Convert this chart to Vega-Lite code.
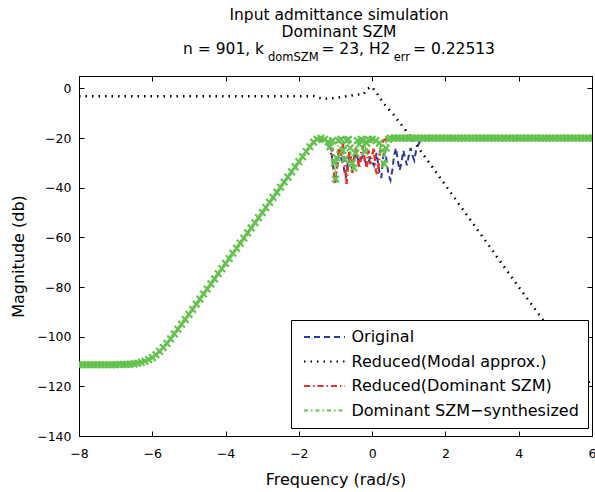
{
  "$schema": "https://vega.github.io/schema/vega-lite/v6.json",
  "width": 513,
  "height": 360,
  "autosize": "none",
  "padding": {"left": 79, "top": 76, "right": 3, "bottom": 56},
  "background": "white",
  "config": {
    "view": {"stroke": "black", "strokeWidth": 1},
    "font": "DejaVu Sans",
    "axis": {"grid": false, "labelFlush": false, "domainColor": "black", "tickColor": "black", "labelColor": "black", "titleColor": "black", "labelFont": "DejaVu Sans", "titleFont": "DejaVu Sans", "titleFontWeight": "normal", "labelFontSize": 12.5, "titleFontSize": 16, "tickSize": -5, "domainWidth": 1, "tickWidth": 1}
  },
  "title": {
    "text": ["Input admittance simulation", "Dominant SZM", "n = 901, k\u2007\u2007\u2007\u2007\u2007\u2009 = 23, H2\u2007\u2005\u2005 = 0.22513"],
    "subtitle": "domSZM\u2007\u2007\u2007\u2007\u2007\u2007\u2007\u2007\u2007\u2007\u2006err\u2007\u2007\u2004",
    "font": "DejaVu Sans",
    "fontSize": 15.5,
    "fontWeight": "normal",
    "lineHeight": 17,
    "color": "black",
    "subtitleFont": "DejaVu Sans",
    "subtitleFontSize": 11.5,
    "subtitleColor": "black",
    "subtitlePadding": -5,
    "offset": 12,
    "dx": 3.5
  },
  "datasets": {
    "d": [
      {"s": "Original", "x": -8, "y": -111.3},
      {"s": "Original", "x": -6.4, "y": -110.7},
      {"s": "Original", "x": -6.2, "y": -109.9},
      {"s": "Original", "x": -6.0, "y": -108.4},
      {"s": "Original", "x": -5.8, "y": -105.9},
      {"s": "Original", "x": -5.6, "y": -102.7},
      {"s": "Original", "x": -5.4, "y": -98.9},
      {"s": "Original", "x": -5.2, "y": -95.0},
      {"s": "Original", "x": -5.0, "y": -91.0},
      {"s": "Original", "x": -1.7, "y": -23.5},
      {"s": "Original", "x": -1.6, "y": -21.6},
      {"s": "Original", "x": -1.5, "y": -20.5},
      {"s": "Original", "x": -1.3, "y": -21},
      {"s": "Original", "x": -1.2, "y": -23},
      {"s": "Original", "x": -1.1, "y": -27},
      {"s": "Original", "x": -1.02, "y": -37},
      {"s": "Original", "x": -0.98, "y": -34},
      {"s": "Original", "x": -0.9, "y": -26},
      {"s": "Original", "x": -0.8, "y": -30},
      {"s": "Original", "x": -0.72, "y": -36},
      {"s": "Original", "x": -0.65, "y": -28},
      {"s": "Original", "x": -0.55, "y": -32},
      {"s": "Original", "x": -0.45, "y": -26},
      {"s": "Original", "x": -0.35, "y": -30},
      {"s": "Original", "x": -0.25, "y": -27},
      {"s": "Original", "x": -0.15, "y": -31},
      {"s": "Original", "x": -0.05, "y": -28},
      {"s": "Original", "x": 0.05, "y": -31},
      {"s": "Original", "x": 0.12, "y": -26},
      {"s": "Original", "x": 0.2, "y": -34},
      {"s": "Original", "x": 0.25, "y": -36},
      {"s": "Original", "x": 0.3, "y": -28},
      {"s": "Original", "x": 0.35, "y": -24},
      {"s": "Original", "x": 0.4, "y": -30},
      {"s": "Original", "x": 0.45, "y": -35},
      {"s": "Original", "x": 0.5, "y": -37},
      {"s": "Original", "x": 0.55, "y": -33},
      {"s": "Original", "x": 0.6, "y": -27},
      {"s": "Original", "x": 0.65, "y": -24},
      {"s": "Original", "x": 0.7, "y": -29},
      {"s": "Original", "x": 0.75, "y": -33},
      {"s": "Original", "x": 0.8, "y": -30},
      {"s": "Original", "x": 0.85, "y": -25},
      {"s": "Original", "x": 0.9, "y": -28},
      {"s": "Original", "x": 0.95, "y": -31},
      {"s": "Original", "x": 1.0, "y": -27},
      {"s": "Original", "x": 1.05, "y": -24},
      {"s": "Original", "x": 1.1, "y": -27},
      {"s": "Original", "x": 1.15, "y": -29},
      {"s": "Original", "x": 1.2, "y": -25},
      {"s": "Original", "x": 1.25, "y": -23},
      {"s": "Original", "x": 1.3, "y": -21.5},
      {"s": "Original", "x": 1.4, "y": -20.3},
      {"s": "Original", "x": 1.5, "y": -20},
      {"s": "Original", "x": 6, "y": -20},

      {"s": "Reduced(Modal approx.)", "x": -8, "y": -3.2},
      {"s": "Reduced(Modal approx.)", "x": -2, "y": -3.2},
      {"s": "Reduced(Modal approx.)", "x": -1.6, "y": -3.1},
      {"s": "Reduced(Modal approx.)", "x": -1.33, "y": -4.2},
      {"s": "Reduced(Modal approx.)", "x": -0.97, "y": -3.8},
      {"s": "Reduced(Modal approx.)", "x": -0.69, "y": -3.1},
      {"s": "Reduced(Modal approx.)", "x": -0.42, "y": -2.5},
      {"s": "Reduced(Modal approx.)", "x": -0.24, "y": -2.4},
      {"s": "Reduced(Modal approx.)", "x": -0.13, "y": -0.2},
      {"s": "Reduced(Modal approx.)", "x": -0.01, "y": 0.7},
      {"s": "Reduced(Modal approx.)", "x": 0.12, "y": -1.7},
      {"s": "Reduced(Modal approx.)", "x": 0.3, "y": -5.8},
      {"s": "Reduced(Modal approx.)", "x": 0.58, "y": -10.5},
      {"s": "Reduced(Modal approx.)", "x": 1.0, "y": -18.5},
      {"s": "Reduced(Modal approx.)", "x": 2.0, "y": -39},
      {"s": "Reduced(Modal approx.)", "x": 3.0, "y": -59.5},
      {"s": "Reduced(Modal approx.)", "x": 4.0, "y": -80},
      {"s": "Reduced(Modal approx.)", "x": 5.0, "y": -100},
      {"s": "Reduced(Modal approx.)", "x": 6.0, "y": -120},

      {"s": "Reduced(Dominant SZM)", "x": -8, "y": -111.3},
      {"s": "Reduced(Dominant SZM)", "x": -6.4, "y": -110.7},
      {"s": "Reduced(Dominant SZM)", "x": -6.2, "y": -109.9},
      {"s": "Reduced(Dominant SZM)", "x": -6.0, "y": -108.4},
      {"s": "Reduced(Dominant SZM)", "x": -5.8, "y": -105.9},
      {"s": "Reduced(Dominant SZM)", "x": -5.6, "y": -102.7},
      {"s": "Reduced(Dominant SZM)", "x": -5.4, "y": -98.9},
      {"s": "Reduced(Dominant SZM)", "x": -5.2, "y": -95.0},
      {"s": "Reduced(Dominant SZM)", "x": -5.0, "y": -91.0},
      {"s": "Reduced(Dominant SZM)", "x": -1.7, "y": -23.5},
      {"s": "Reduced(Dominant SZM)", "x": -1.6, "y": -21.6},
      {"s": "Reduced(Dominant SZM)", "x": -1.5, "y": -20.3},
      {"s": "Reduced(Dominant SZM)", "x": -1.3, "y": -20.8},
      {"s": "Reduced(Dominant SZM)", "x": -1.2, "y": -22},
      {"s": "Reduced(Dominant SZM)", "x": -1.1, "y": -25},
      {"s": "Reduced(Dominant SZM)", "x": -1.05, "y": -33},
      {"s": "Reduced(Dominant SZM)", "x": -1.0, "y": -38.5},
      {"s": "Reduced(Dominant SZM)", "x": -0.95, "y": -30},
      {"s": "Reduced(Dominant SZM)", "x": -0.9, "y": -24},
      {"s": "Reduced(Dominant SZM)", "x": -0.85, "y": -27},
      {"s": "Reduced(Dominant SZM)", "x": -0.8, "y": -22},
      {"s": "Reduced(Dominant SZM)", "x": -0.75, "y": -30},
      {"s": "Reduced(Dominant SZM)", "x": -0.7, "y": -38.5},
      {"s": "Reduced(Dominant SZM)", "x": -0.66, "y": -31},
      {"s": "Reduced(Dominant SZM)", "x": -0.62, "y": -25},
      {"s": "Reduced(Dominant SZM)", "x": -0.58, "y": -28},
      {"s": "Reduced(Dominant SZM)", "x": -0.54, "y": -34},
      {"s": "Reduced(Dominant SZM)", "x": -0.5, "y": -29},
      {"s": "Reduced(Dominant SZM)", "x": -0.45, "y": -24},
      {"s": "Reduced(Dominant SZM)", "x": -0.4, "y": -28},
      {"s": "Reduced(Dominant SZM)", "x": -0.35, "y": -32},
      {"s": "Reduced(Dominant SZM)", "x": -0.3, "y": -26},
      {"s": "Reduced(Dominant SZM)", "x": -0.25, "y": -23},
      {"s": "Reduced(Dominant SZM)", "x": -0.2, "y": -29},
      {"s": "Reduced(Dominant SZM)", "x": -0.15, "y": -32},
      {"s": "Reduced(Dominant SZM)", "x": -0.1, "y": -25},
      {"s": "Reduced(Dominant SZM)", "x": -0.05, "y": -30.5},
      {"s": "Reduced(Dominant SZM)", "x": 0.0, "y": -27},
      {"s": "Reduced(Dominant SZM)", "x": 0.05, "y": -24},
      {"s": "Reduced(Dominant SZM)", "x": 0.1, "y": -33},
      {"s": "Reduced(Dominant SZM)", "x": 0.15, "y": -35},
      {"s": "Reduced(Dominant SZM)", "x": 0.2, "y": -27},
      {"s": "Reduced(Dominant SZM)", "x": 0.25, "y": -23},
      {"s": "Reduced(Dominant SZM)", "x": 0.3, "y": -21},
      {"s": "Reduced(Dominant SZM)", "x": 0.4, "y": -20.3},
      {"s": "Reduced(Dominant SZM)", "x": 0.5, "y": -20},
      {"s": "Reduced(Dominant SZM)", "x": 6, "y": -20},

      {"s": "Dominant SZM−synthesized", "x": -8.0, "y": -111.3},
      {"s": "Dominant SZM−synthesized", "x": -7.9, "y": -111.3},
      {"s": "Dominant SZM−synthesized", "x": -7.8, "y": -111.3},
      {"s": "Dominant SZM−synthesized", "x": -7.7, "y": -111.3},
      {"s": "Dominant SZM−synthesized", "x": -7.6, "y": -111.3},
      {"s": "Dominant SZM−synthesized", "x": -7.5, "y": -111.3},
      {"s": "Dominant SZM−synthesized", "x": -7.4, "y": -111.3},
      {"s": "Dominant SZM−synthesized", "x": -7.3, "y": -111.3},
      {"s": "Dominant SZM−synthesized", "x": -7.2, "y": -111.3},
      {"s": "Dominant SZM−synthesized", "x": -7.1, "y": -111.3},
      {"s": "Dominant SZM−synthesized", "x": -7.0, "y": -111.3},
      {"s": "Dominant SZM−synthesized", "x": -6.9, "y": -111.2},
      {"s": "Dominant SZM−synthesized", "x": -6.8, "y": -111.2},
      {"s": "Dominant SZM−synthesized", "x": -6.7, "y": -111.15},
      {"s": "Dominant SZM−synthesized", "x": -6.6, "y": -111.06},
      {"s": "Dominant SZM−synthesized", "x": -6.5, "y": -110.92},
      {"s": "Dominant SZM−synthesized", "x": -6.4, "y": -110.7},
      {"s": "Dominant SZM−synthesized", "x": -6.3, "y": -110.37},
      {"s": "Dominant SZM−synthesized", "x": -6.2, "y": -109.9},
      {"s": "Dominant SZM−synthesized", "x": -6.1, "y": -109.2},
      {"s": "Dominant SZM−synthesized", "x": -6.0, "y": -108.4},
      {"s": "Dominant SZM−synthesized", "x": -5.9, "y": -107.3},
      {"s": "Dominant SZM−synthesized", "x": -5.8, "y": -105.9},
      {"s": "Dominant SZM−synthesized", "x": -5.7, "y": -104.4},
      {"s": "Dominant SZM−synthesized", "x": -5.6, "y": -102.7},
      {"s": "Dominant SZM−synthesized", "x": -5.5, "y": -100.9},
      {"s": "Dominant SZM−synthesized", "x": -5.4, "y": -98.9},
      {"s": "Dominant SZM−synthesized", "x": -5.3, "y": -97.0},
      {"s": "Dominant SZM−synthesized", "x": -5.2, "y": -95.0},
      {"s": "Dominant SZM−synthesized", "x": -5.1, "y": -93.1},
      {"s": "Dominant SZM−synthesized", "x": -5.0, "y": -91.0},
      {"s": "Dominant SZM−synthesized", "x": -4.9, "y": -89.0},
      {"s": "Dominant SZM−synthesized", "x": -4.8, "y": -86.9},
      {"s": "Dominant SZM−synthesized", "x": -4.7, "y": -84.9},
      {"s": "Dominant SZM−synthesized", "x": -4.6, "y": -82.8},
      {"s": "Dominant SZM−synthesized", "x": -4.5, "y": -80.8},
      {"s": "Dominant SZM−synthesized", "x": -4.4, "y": -78.7},
      {"s": "Dominant SZM−synthesized", "x": -4.3, "y": -76.7},
      {"s": "Dominant SZM−synthesized", "x": -4.2, "y": -74.6},
      {"s": "Dominant SZM−synthesized", "x": -4.1, "y": -72.6},
      {"s": "Dominant SZM−synthesized", "x": -4.0, "y": -70.5},
      {"s": "Dominant SZM−synthesized", "x": -3.9, "y": -68.5},
      {"s": "Dominant SZM−synthesized", "x": -3.8, "y": -66.4},
      {"s": "Dominant SZM−synthesized", "x": -3.7, "y": -64.4},
      {"s": "Dominant SZM−synthesized", "x": -3.6, "y": -62.3},
      {"s": "Dominant SZM−synthesized", "x": -3.5, "y": -60.3},
      {"s": "Dominant SZM−synthesized", "x": -3.4, "y": -58.2},
      {"s": "Dominant SZM−synthesized", "x": -3.3, "y": -56.2},
      {"s": "Dominant SZM−synthesized", "x": -3.2, "y": -54.1},
      {"s": "Dominant SZM−synthesized", "x": -3.1, "y": -52.1},
      {"s": "Dominant SZM−synthesized", "x": -3.0, "y": -50.0},
      {"s": "Dominant SZM−synthesized", "x": -2.9, "y": -48.0},
      {"s": "Dominant SZM−synthesized", "x": -2.8, "y": -45.9},
      {"s": "Dominant SZM−synthesized", "x": -2.7, "y": -43.9},
      {"s": "Dominant SZM−synthesized", "x": -2.6, "y": -41.8},
      {"s": "Dominant SZM−synthesized", "x": -2.5, "y": -39.8},
      {"s": "Dominant SZM−synthesized", "x": -2.4, "y": -37.7},
      {"s": "Dominant SZM−synthesized", "x": -2.3, "y": -35.7},
      {"s": "Dominant SZM−synthesized", "x": -2.2, "y": -33.6},
      {"s": "Dominant SZM−synthesized", "x": -2.1, "y": -31.6},
      {"s": "Dominant SZM−synthesized", "x": -2.0, "y": -29.5},
      {"s": "Dominant SZM−synthesized", "x": -1.9, "y": -27.5},
      {"s": "Dominant SZM−synthesized", "x": -1.8, "y": -25.4},
      {"s": "Dominant SZM−synthesized", "x": -1.7, "y": -23.5},
      {"s": "Dominant SZM−synthesized", "x": -1.6, "y": -21.6},
      {"s": "Dominant SZM−synthesized", "x": -1.5, "y": -20.5},
      {"s": "Dominant SZM−synthesized", "x": -1.4, "y": -20.1},
      {"s": "Dominant SZM−synthesized", "x": -1.3, "y": -20.5},
      {"s": "Dominant SZM−synthesized", "x": -1.2, "y": -21.5},
      {"s": "Dominant SZM−synthesized", "x": -1.15, "y": -23.5},
      {"s": "Dominant SZM−synthesized", "x": -1.08, "y": -21.0},
      {"s": "Dominant SZM−synthesized", "x": -1.03, "y": -30},
      {"s": "Dominant SZM−synthesized", "x": -1.0, "y": -36.5},
      {"s": "Dominant SZM−synthesized", "x": -0.97, "y": -28},
      {"s": "Dominant SZM−synthesized", "x": -0.92, "y": -21},
      {"s": "Dominant SZM−synthesized", "x": -0.85, "y": -20.5},
      {"s": "Dominant SZM−synthesized", "x": -0.8, "y": -25},
      {"s": "Dominant SZM−synthesized", "x": -0.75, "y": -28.5},
      {"s": "Dominant SZM−synthesized", "x": -0.7, "y": -21},
      {"s": "Dominant SZM−synthesized", "x": -0.65, "y": -20.5},
      {"s": "Dominant SZM−synthesized", "x": -0.6, "y": -24},
      {"s": "Dominant SZM−synthesized", "x": -0.55, "y": -30},
      {"s": "Dominant SZM−synthesized", "x": -0.5, "y": -32},
      {"s": "Dominant SZM−synthesized", "x": -0.45, "y": -26},
      {"s": "Dominant SZM−synthesized", "x": -0.4, "y": -21},
      {"s": "Dominant SZM−synthesized", "x": -0.35, "y": -22.5},
      {"s": "Dominant SZM−synthesized", "x": -0.3, "y": -20.5},
      {"s": "Dominant SZM−synthesized", "x": -0.25, "y": -21},
      {"s": "Dominant SZM−synthesized", "x": -0.2, "y": -25.5},
      {"s": "Dominant SZM−synthesized", "x": -0.15, "y": -22},
      {"s": "Dominant SZM−synthesized", "x": -0.1, "y": -20.5},
      {"s": "Dominant SZM−synthesized", "x": 0.0, "y": -20.5},
      {"s": "Dominant SZM−synthesized", "x": 0.1, "y": -21},
      {"s": "Dominant SZM−synthesized", "x": 0.2, "y": -22},
      {"s": "Dominant SZM−synthesized", "x": 0.28, "y": -25},
      {"s": "Dominant SZM−synthesized", "x": 0.33, "y": -30.5},
      {"s": "Dominant SZM−synthesized", "x": 0.38, "y": -24},
      {"s": "Dominant SZM−synthesized", "x": 0.45, "y": -20.5},
      {"s": "Dominant SZM−synthesized", "x": 0.5, "y": -20},
      {"s": "Dominant SZM−synthesized", "x": 0.6, "y": -20},
      {"s": "Dominant SZM−synthesized", "x": 0.7, "y": -20},
      {"s": "Dominant SZM−synthesized", "x": 0.8, "y": -20},
      {"s": "Dominant SZM−synthesized", "x": 0.9, "y": -20},
      {"s": "Dominant SZM−synthesized", "x": 1.0, "y": -20},
      {"s": "Dominant SZM−synthesized", "x": 1.1, "y": -20},
      {"s": "Dominant SZM−synthesized", "x": 1.2, "y": -20},
      {"s": "Dominant SZM−synthesized", "x": 1.3, "y": -20},
      {"s": "Dominant SZM−synthesized", "x": 1.4, "y": -20},
      {"s": "Dominant SZM−synthesized", "x": 1.5, "y": -20},
      {"s": "Dominant SZM−synthesized", "x": 1.6, "y": -20},
      {"s": "Dominant SZM−synthesized", "x": 1.7, "y": -20},
      {"s": "Dominant SZM−synthesized", "x": 1.8, "y": -20},
      {"s": "Dominant SZM−synthesized", "x": 1.9, "y": -20},
      {"s": "Dominant SZM−synthesized", "x": 2.0, "y": -20},
      {"s": "Dominant SZM−synthesized", "x": 2.1, "y": -20},
      {"s": "Dominant SZM−synthesized", "x": 2.2, "y": -20},
      {"s": "Dominant SZM−synthesized", "x": 2.3, "y": -20},
      {"s": "Dominant SZM−synthesized", "x": 2.4, "y": -20},
      {"s": "Dominant SZM−synthesized", "x": 2.5, "y": -20},
      {"s": "Dominant SZM−synthesized", "x": 2.6, "y": -20},
      {"s": "Dominant SZM−synthesized", "x": 2.7, "y": -20},
      {"s": "Dominant SZM−synthesized", "x": 2.8, "y": -20},
      {"s": "Dominant SZM−synthesized", "x": 2.9, "y": -20},
      {"s": "Dominant SZM−synthesized", "x": 3.0, "y": -20},
      {"s": "Dominant SZM−synthesized", "x": 3.1, "y": -20},
      {"s": "Dominant SZM−synthesized", "x": 3.2, "y": -20},
      {"s": "Dominant SZM−synthesized", "x": 3.3, "y": -20},
      {"s": "Dominant SZM−synthesized", "x": 3.4, "y": -20},
      {"s": "Dominant SZM−synthesized", "x": 3.5, "y": -20},
      {"s": "Dominant SZM−synthesized", "x": 3.6, "y": -20},
      {"s": "Dominant SZM−synthesized", "x": 3.7, "y": -20},
      {"s": "Dominant SZM−synthesized", "x": 3.8, "y": -20},
      {"s": "Dominant SZM−synthesized", "x": 3.9, "y": -20},
      {"s": "Dominant SZM−synthesized", "x": 4.0, "y": -20},
      {"s": "Dominant SZM−synthesized", "x": 4.1, "y": -20},
      {"s": "Dominant SZM−synthesized", "x": 4.2, "y": -20},
      {"s": "Dominant SZM−synthesized", "x": 4.3, "y": -20},
      {"s": "Dominant SZM−synthesized", "x": 4.4, "y": -20},
      {"s": "Dominant SZM−synthesized", "x": 4.5, "y": -20},
      {"s": "Dominant SZM−synthesized", "x": 4.6, "y": -20},
      {"s": "Dominant SZM−synthesized", "x": 4.7, "y": -20},
      {"s": "Dominant SZM−synthesized", "x": 4.8, "y": -20},
      {"s": "Dominant SZM−synthesized", "x": 4.9, "y": -20},
      {"s": "Dominant SZM−synthesized", "x": 5.0, "y": -20},
      {"s": "Dominant SZM−synthesized", "x": 5.1, "y": -20},
      {"s": "Dominant SZM−synthesized", "x": 5.2, "y": -20},
      {"s": "Dominant SZM−synthesized", "x": 5.3, "y": -20},
      {"s": "Dominant SZM−synthesized", "x": 5.4, "y": -20},
      {"s": "Dominant SZM−synthesized", "x": 5.5, "y": -20},
      {"s": "Dominant SZM−synthesized", "x": 5.6, "y": -20},
      {"s": "Dominant SZM−synthesized", "x": 5.7, "y": -20},
      {"s": "Dominant SZM−synthesized", "x": 5.8, "y": -20},
      {"s": "Dominant SZM−synthesized", "x": 5.9, "y": -20},
      {"s": "Dominant SZM−synthesized", "x": 6.0, "y": -20}
    ]
  },
  "data": {"name": "d"},
  "layer": [
    {
      "transform": [{"filter": "datum.s === 'Original'"}],
      "mark": {"type": "line", "strokeWidth": 2, "clip": true},
      "encoding": {
        "x": {"field": "x", "type": "quantitative", "scale": {"domain": [-8, 6], "nice": false, "zero": false},
          "axis": {"orient": "bottom", "values": [-8, -6, -4, -2, 0, 2, 4, 6], "title": "Frequency (rad/s)", "labelPadding": 16, "titlePadding": 12}},
        "y": {"field": "y", "type": "quantitative", "scale": {"domain": [-140, 5], "nice": false, "zero": false},
          "axis": {"orient": "left", "values": [-140, -120, -100, -80, -60, -40, -20, 0], "title": "Magnitude (db)", "labelPadding": 13, "titlePadding": 10}},
        "color": {"field": "s", "type": "nominal",
          "scale": {"domain": ["Original", "Reduced(Modal approx.)", "Reduced(Dominant SZM)", "Dominant SZM−synthesized"], "range": ["#2b3a9a", "#000000", "#e8302a", "#62c44e"]},
          "legend": {"title": null, "orient": "none", "legendX": 212, "legendY": 244, "fillColor": "white", "strokeColor": "black", "padding": 9, "labelFont": "DejaVu Sans", "labelFontSize": 16, "labelColor": "black", "labelLimit": 0, "labelOffset": 19, "symbolType": "M-5.125,0L5.125,0", "symbolSize": 64, "symbolOffset": 16.5, "symbolStrokeWidth": 2, "rowPadding": 8.5}},
        "strokeDash": {"field": "s", "type": "nominal",
          "scale": {"domain": ["Original", "Reduced(Modal approx.)", "Reduced(Dominant SZM)", "Dominant SZM−synthesized"], "range": [[6, 4], [1.5, 5], [6, 3, 1.5, 3], [4, 3, 1.5, 3]]},
          "legend": {"title": null, "orient": "none", "legendX": 212, "legendY": 244, "fillColor": "white", "strokeColor": "black", "padding": 9, "labelFont": "DejaVu Sans", "labelFontSize": 16, "labelColor": "black", "labelLimit": 0, "labelOffset": 19, "symbolType": "M-5.125,0L5.125,0", "symbolSize": 64, "symbolOffset": 16.5, "symbolStrokeWidth": 2, "rowPadding": 8.5}}
      }
    },
    {
      "transform": [{"filter": "datum.s === 'Reduced(Modal approx.)'"}],
      "mark": {"type": "line", "strokeWidth": 2.5, "clip": true},
      "encoding": {
        "x": {"field": "x", "type": "quantitative", "axis": null},
        "y": {"field": "y", "type": "quantitative", "axis": null},
        "color": {"field": "s", "type": "nominal"},
        "strokeDash": {"field": "s", "type": "nominal"}
      }
    },
    {
      "transform": [{"filter": "datum.s === 'Reduced(Dominant SZM)'"}],
      "mark": {"type": "line", "strokeWidth": 2.5, "clip": true},
      "encoding": {
        "x": {"field": "x", "type": "quantitative", "axis": null},
        "y": {"field": "y", "type": "quantitative", "axis": null},
        "color": {"field": "s", "type": "nominal"},
        "strokeDash": {"field": "s", "type": "nominal"}
      }
    },
    {
      "transform": [{"filter": "datum.s === 'Dominant SZM−synthesized'"}],
      "mark": {"type": "line", "strokeWidth": 1.5, "clip": true},
      "encoding": {
        "x": {"field": "x", "type": "quantitative", "axis": null},
        "y": {"field": "y", "type": "quantitative", "axis": null},
        "color": {"field": "s", "type": "nominal"},
        "strokeDash": {"field": "s", "type": "nominal"}
      }
    },
    {
      "transform": [{"filter": "datum.s === 'Dominant SZM−synthesized'"}],
      "mark": {"type": "point", "shape": "M-1,-1L1,1M-1,1L1,-1", "filled": false, "stroke": "#62c44e", "strokeWidth": 2.2, "size": 44, "opacity": 1, "clip": true},
      "encoding": {
        "x": {"field": "x", "type": "quantitative", "axis": {"orient": "top", "values": [-8, -6, -4, -2, 0, 2, 4, 6], "labels": false, "domain": false, "title": null}},
        "y": {"field": "y", "type": "quantitative", "axis": {"orient": "right", "values": [-140, -120, -100, -80, -60, -40, -20, 0], "labels": false, "domain": false, "title": null}}
      }
    }
  ],
  "resolve": {"axis": {"x": "independent", "y": "independent"}}
}
